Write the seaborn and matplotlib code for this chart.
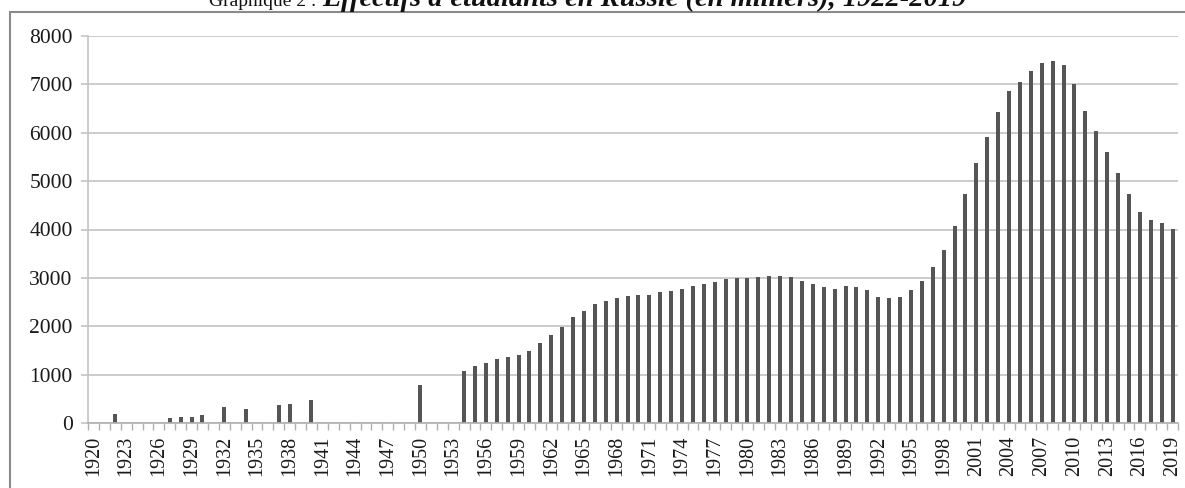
import numpy as np
import pandas as pd
import matplotlib
matplotlib.use("Agg")
import matplotlib.pyplot as plt
import seaborn as sns
from matplotlib.patches import Rectangle

# Student numbers in Russia (thousands)
years = list(range(1920, 2020))
students = [
    0, 0, 178, 0, 0, 0, 0, 96, 124, 124,            # 1920-1929
    172, 0, 324, 0, 282, 0, 0, 372, 393, 0,         # 1930-1939
    482, 0, 0, 0, 0, 0, 0, 0, 0, 0,                 # 1940-1949
    792, 0, 0, 0, 1074, 1168, 1234, 1324, 1372, 1414,   # 1950-1959
    1497, 1655, 1821, 1986, 2193, 2324, 2455, 2524, 2593, 2634,  # 1960-1969
    2655, 2655, 2703, 2724, 2766, 2834, 2876, 2924, 2972, 3007,  # 1970-1979
    3007, 3028, 3048, 3034, 3014, 2945, 2883, 2813, 2768, 2833,  # 1980-1989
    2812, 2743, 2605, 2584, 2605, 2743, 2936, 3225, 3584, 4066,  # 1990-1999
    4735, 5382, 5913, 6423, 6864, 7043, 7285, 7443, 7485, 7395,  # 2000-2009
    7016, 6444, 6044, 5603, 5176, 4735, 4363, 4204, 4135, 4018,  # 2010-2019
]
tick_years = [str(y) for y in years[::3]]
y_ticks = [0, 1000, 2000, 3000, 4000, 5000, 6000, 7000, 8000]

df = pd.DataFrame({"Year": [str(y) for y in years], "Students": students})

sns.set_style("white")
plt.rcParams["font.family"] = ["Liberation Serif", "DejaVu Serif"]

W, H = 1185, 488
fig = plt.figure(figsize=(W / 100, H / 100), dpi=100)
ax = fig.add_axes([88 / W, 1 - 423 / H, (1178 - 88) / W, (423 - 36) / H])

sns.barplot(data=df, x="Year", y="Students", order=df["Year"], color="#555555",
            saturation=1, width=0.37, linewidth=0, ax=ax)

ax.set_xlim(-0.5, len(years) - 0.5)
ax.set_ylim(0, 8000)
ax.set_yticks(y_ticks)
ax.set_yticklabels([str(v) for v in y_ticks], fontsize=15.5, color="#1a1a1a")
ax.yaxis.grid(True, color="#c4c4c4", linewidth=1.2)
ax.set_axisbelow(True)

ax.set_xticks(np.arange(0, len(years), 3))
ax.set_xticklabels(tick_years, rotation=90, fontsize=14.5, color="#1a1a1a")
ax.set_xticks(np.arange(-0.5, len(years), 1), minor=True)
ax.tick_params(axis="x", which="major", length=0, pad=9)
ax.tick_params(axis="x", which="minor", length=5, width=1, color="#b0b0b0", bottom=True)
ax.tick_params(axis="y", length=5, width=1.2, color="#c4c4c4", pad=6, left=True)

ax.set_xlabel("")
ax.set_ylabel("")
for side in ["top", "right"]:
    ax.spines[side].set_visible(False)
ax.spines["left"].set_color("#c4c4c4")
ax.spines["left"].set_linewidth(1.2)
ax.spines["bottom"].set_color("#b0b0b0")
ax.spines["bottom"].set_linewidth(1.2)

# outer frame (partially cropped in the reference)
fig.patches.append(Rectangle((10 / W, -0.2), 2, 1 - 12 / H + 0.2, transform=fig.transFigure,
                             fill=False, edgecolor="#8a8a8a", linewidth=1.5))

# title, cut at the top edge
fig.text(316 / W, 1 - 6 / H, "Graphique 2 :", ha="right", va="baseline",
         fontsize=14, color="#111111")
fig.text(322 / W, 1 - 6 / H, "Effectifs d'étudiants en Russie (en milliers), 1922-2019",
         ha="left", va="baseline", fontsize=20.5, fontweight="bold", fontstyle="italic",
         color="#111111")

fig.savefig("out.png", dpi=100)
